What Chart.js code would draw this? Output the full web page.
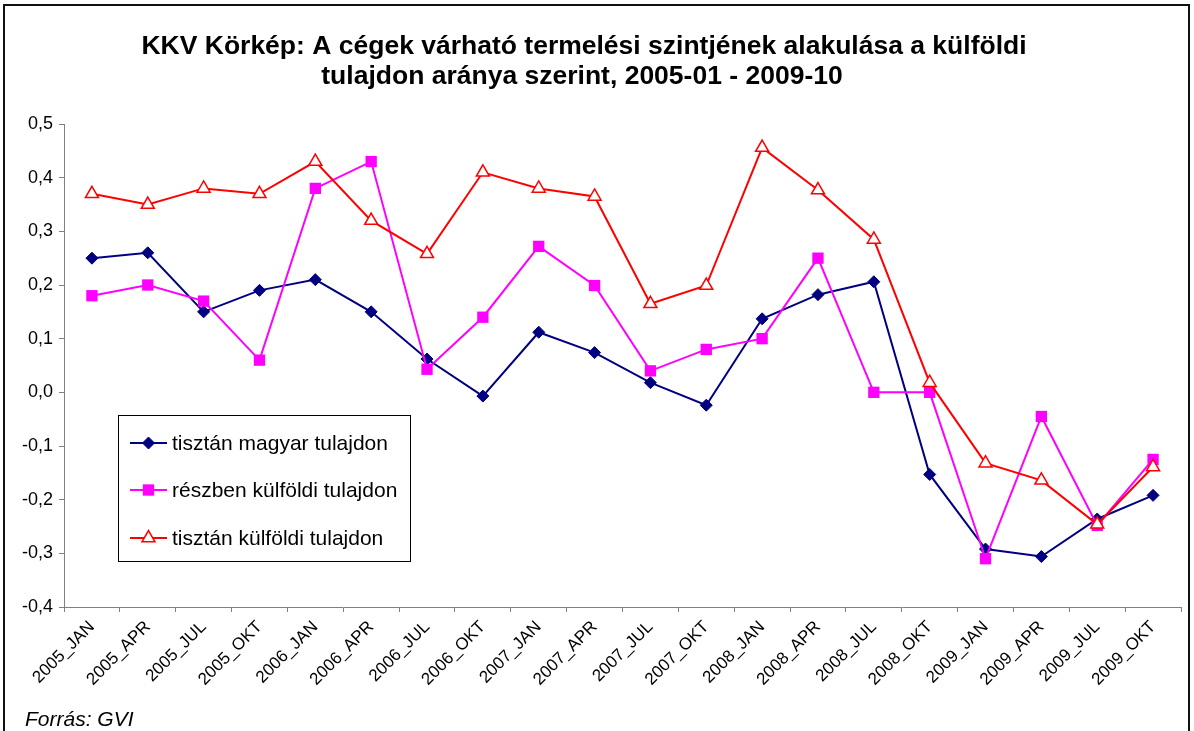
<!DOCTYPE html>
<html>
<head>
<meta charset="utf-8">
<script src="https://cdn.jsdelivr.net/npm/chart.js@4.4.0/dist/chart.umd.min.js"></script>
<style>
  html, body { margin: 0; padding: 0; background: #fff; }
  canvas { display: block; }
</style>
</head>
<body>
<canvas id="c" width="1194" height="731"></canvas>
<script>
// Survey periods (quarters)
const categories = [
  '2005_JAN', '2005_APR', '2005_JUL', '2005_OKT',
  '2006_JAN', '2006_APR', '2006_JUL', '2006_OKT',
  '2007_JAN', '2007_APR', '2007_JUL', '2007_OKT',
  '2008_JAN', '2008_APR', '2008_JUL', '2008_OKT',
  '2009_JAN', '2009_APR', '2009_JUL', '2009_OKT'
];

// Expected production level balance by ownership group
const tisztanMagyar = [
  0.25, 0.26, 0.15, 0.19,
  0.21, 0.15, 0.062, -0.007,
  0.112, 0.074, 0.018, -0.024,
  0.137, 0.182, 0.206, -0.153,
  -0.292, -0.306, -0.236, -0.192
];
const reszbenKulfoldi = [
  0.18, 0.20, 0.17, 0.06,
  0.38, 0.43, 0.043, 0.14,
  0.272, 0.199, 0.04, 0.08,
  0.10, 0.25, 0.0, 0.0,
  -0.31, -0.045, -0.248, -0.125
];
const tisztanKulfoldi = [
  0.37, 0.35, 0.38, 0.37,
  0.43, 0.32, 0.258, 0.41,
  0.38, 0.365, 0.165, 0.199,
  0.456, 0.377, 0.285, 0.018,
  -0.132, -0.164, -0.246, -0.139
];

const seriesNames = ['tisztán magyar tulajdon', 'részben külföldi tulajdon', 'tisztán külföldi tulajdon'];

// Value axis range and step
const yMin = -0.4;
const yMax = 0.5;
const yStep = 0.1;

const titleLines = [
  'KKV Körkép: A cégek várható termelési szintjének alakulása a külföldi',
  'tulajdon aránya szerint, 2005-01 - 2009-10'
];
const sourceText = 'Forrás: GVI';

const FONT = '"Liberation Sans", Arial, Helvetica, sans-serif';

function formatTick(v) {
  const n = Math.abs(v) < 1e-9 ? 0 : v;
  return n.toFixed(1).replace('.', ',');
}

// Background, outer frame, title, source note and the boxed legend
const decorPlugin = {
  id: 'decor',
  beforeDraw(chart) {
    const ctx = chart.ctx;
    ctx.save();
    ctx.fillStyle = '#ffffff';
    ctx.fillRect(0, 0, chart.width, chart.height);
    ctx.restore();
  },
  afterDraw(chart) {
    const ctx = chart.ctx;
    ctx.save();

    // frame around the whole figure
    ctx.strokeStyle = '#111';
    ctx.lineWidth = 2;
    ctx.strokeRect(4, 5, 1185, 760);

    // title
    ctx.fillStyle = '#000';
    ctx.textAlign = 'center';
    ctx.textBaseline = 'alphabetic';
    ctx.font = 'bold 26.5px ' + FONT;
    ctx.fillText(titleLines[0], 584, 54);
    ctx.fillText(titleLines[1], 582, 84);

    // source note
    ctx.textAlign = 'left';
    ctx.font = 'italic 21px ' + FONT;
    ctx.fillText(sourceText, 25, 726);

    // legend
    const bx = 118.5, by = 415.5, bw = 292, bh = 146;
    ctx.fillStyle = '#fff';
    ctx.fillRect(bx, by, bw, bh);
    ctx.strokeStyle = '#000';
    ctx.lineWidth = 1;
    ctx.strokeRect(bx, by, bw, bh);

    const rows = [443, 490, 538];
    chart.data.datasets.forEach((ds, i) => {
      const y = rows[i];
      ctx.strokeStyle = ds.borderColor;
      ctx.lineWidth = ds.borderWidth;
      ctx.beginPath();
      ctx.moveTo(130, y);
      ctx.lineTo(167, y);
      ctx.stroke();

      ctx.fillStyle = ds.pointBackgroundColor;
      ctx.strokeStyle = ds.pointBorderColor;
      ctx.lineWidth = ds.pointBorderWidth;
      Chart.helpers.drawPoint(ctx, {
        pointStyle: ds.pointStyle,
        radius: ds.pointRadius,
        rotation: 0,
        borderWidth: ds.pointBorderWidth
      }, 148.5, y);

      ctx.fillStyle = '#000';
      ctx.font = '21px ' + FONT;
      ctx.textAlign = 'left';
      ctx.textBaseline = 'middle';
      ctx.fillText(ds.label, 172, y + 1);
    });

    ctx.restore();
  }
};

new Chart(document.getElementById('c'), {
  type: 'line',
  data: {
    labels: categories,
    datasets: [
      {
        label: seriesNames[0],
        data: tisztanMagyar,
        borderColor: '#000080',
        borderWidth: 2,
        pointStyle: 'rectRot',
        pointRadius: 6,
        pointBackgroundColor: '#000080',
        pointBorderColor: '#000080',
        pointBorderWidth: 1,
        tension: 0,
        order: 3
      },
      {
        label: seriesNames[1],
        data: reszbenKulfoldi,
        borderColor: '#FF00FF',
        borderWidth: 2,
        pointStyle: 'rect',
        pointRadius: 8,
        pointBackgroundColor: '#FF00FF',
        pointBorderColor: '#FF00FF',
        pointBorderWidth: 0,
        tension: 0,
        order: 2
      },
      {
        label: seriesNames[2],
        data: tisztanKulfoldi,
        borderColor: '#FF0000',
        borderWidth: 2,
        pointStyle: 'triangle',
        pointRadius: 7.5,
        pointBackgroundColor: '#FFFFFF',
        pointBorderColor: '#FF0000',
        pointBorderWidth: 1.5,
        tension: 0,
        order: 1
      }
    ]
  },
  options: {
    responsive: false,
    animation: false,
    devicePixelRatio: 1,
    events: [],
    layout: { padding: { top: 124, right: 13, left: 0, bottom: 0 } },
    plugins: {
      legend: { display: false },
      title: { display: false },
      tooltip: { enabled: false }
    },
    scales: {
      x: {
        type: 'category',
        offset: true,
        grid: {
          offset: true,
          drawOnChartArea: false,
          drawTicks: true,
          tickLength: 5,
          color: '#808080',
          lineWidth: 1
        },
        border: { color: '#808080', width: 1 },
        ticks: {
          autoSkip: false,
          minRotation: 45,
          maxRotation: 45,
          padding: 5,
          color: '#000',
          font: { family: FONT, size: 17 }
        },
        afterFit(scale) { scale.height = 124; }
      },
      y: {
        min: yMin,
        max: yMax,
        grid: {
          drawOnChartArea: false,
          drawTicks: true,
          tickLength: 5,
          color: '#808080',
          lineWidth: 1
        },
        border: { color: '#808080', width: 1 },
        ticks: {
          stepSize: yStep,
          padding: 6,
          color: '#000',
          font: { family: FONT, size: 18 },
          callback: (v) => formatTick(v)
        },
        afterFit(scale) { scale.width = 64; }
      }
    }
  },
  plugins: [decorPlugin]
});
</script>
</body>
</html>
